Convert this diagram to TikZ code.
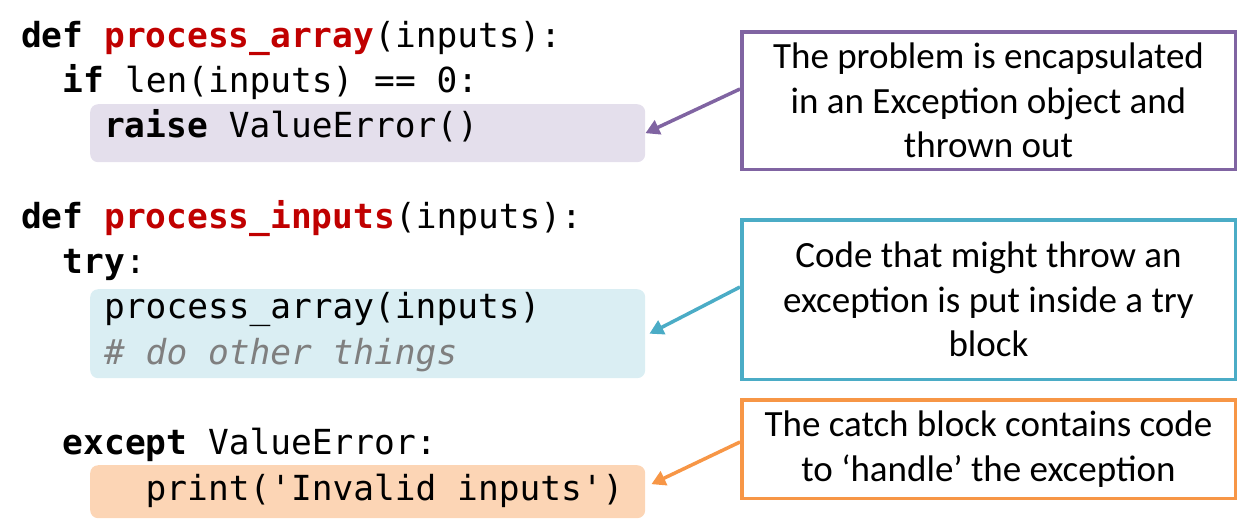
\documentclass[tikz,border=0pt]{standalone}
\usepackage{fontspec}
\setmainfont{Carlito}
\setmonofont{DejaVu Sans Mono}
\usetikzlibrary{arrows.meta,positioning}
\definecolor{fnred}{HTML}{C00000}
\definecolor{commentgray}{HTML}{7F7F7F}
\definecolor{notepurple}{HTML}{8064A2}
\definecolor{blockpurple}{HTML}{E4DFEC}
\definecolor{noteblue}{HTML}{4BACC6}
\definecolor{blockblue}{HTML}{DAEEF3}
\definecolor{noteorange}{HTML}{F79646}
\definecolor{blockorange}{HTML}{FCD5B5}

\begin{document}
\begin{tikzpicture}[x=1pt,y=-1pt]
\tikzset{CODE/.style={anchor=base west,inner sep=0pt,font=\fontsize{34.5}{40}\selectfont\ttfamily}}
\tikzset{BLOCK/.style={rectangle,rounded corners=8pt,anchor=north west,minimum width=555pt,inner sep=0pt}}
\tikzset{NOTE/.style={draw,rectangle,line width=3.5pt,anchor=north west,minimum width=493.5pt,align=center,font=\fontsize{37}{44.5}\selectfont}}
\tikzset{POINTS/.style={draw,line width=3.5pt,-{Triangle[length=14pt,width=15pt]}}}

\useasboundingbox (0,0) rectangle (1247,531);

\node[BLOCK,fill=blockpurple,minimum height=58pt] (raise block) at (90,104) {};
\node[BLOCK,fill=blockblue,minimum height=89pt] (try block) at (90,289) {};
\node[BLOCK,fill=blockorange,minimum height=53pt] (except block) at (90,465) {};

\node[CODE] (def array) at (21,47) {\textbf{def} \textcolor{fnred}{\textbf{process\_array}}(inputs):};
\node[CODE] (if len) at (62.5,92.3) {\textbf{if} len(inputs) == 0:};
\node[CODE] (raise line) at (104,137.6) {\textbf{raise} ValueError()};
\node[CODE] (def inputs) at (21,228.2) {\textbf{def} \textcolor{fnred}{\textbf{process\_inputs}}(inputs):};
\node[CODE] (try line) at (62.5,273.5) {\textbf{try}:};
\node[CODE] (call line) at (104,318.8) {process\_array(inputs)};
\node[CODE,text=commentgray] (comment line) at (104,364.1) {\textit{\# do other things}};
\node[CODE] (except line) at (62.5,454.7) {\textbf{except} ValueError:};
\node[CODE] (print line) at (145.5,500) {print('Invalid inputs')};

\node[NOTE,draw=notepurple,minimum height=137.5pt] (raise note) at (740,30)
  {The problem is encapsulated\\in an Exception object and\\thrown out};
\node[NOTE,draw=noteblue,minimum height=159.5pt] (try note) at (740,218)
  {Code that might throw an\\exception is put inside a try\\block};
\node[NOTE,draw=noteorange,minimum height=98.5pt] (except note) at (740,398)
  {The catch block contains code\\to ‘handle’ the exception};

\path[POINTS,draw=notepurple,fill=notepurple] ([yshift=11.5pt]raise note.west) -- (raise block.east);
\path[POINTS,draw=noteblue,fill=noteblue] ([yshift=12.5pt]try note.west) -- ([xshift=4pt]try block.east);
\path[POINTS,draw=noteorange,fill=noteorange] ([yshift=7pt]except note.west) -- ([shift={(6pt,7.5pt)}]except block.east);

\end{tikzpicture}
\end{document}
